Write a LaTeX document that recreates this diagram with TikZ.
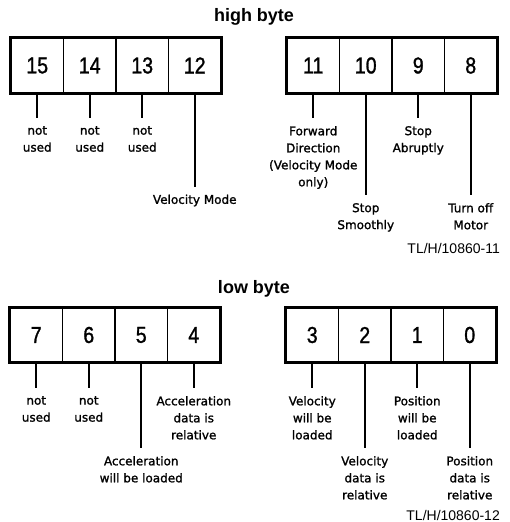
\documentclass[tikz,border=0pt]{standalone}
\usepackage{fontspec}
\newfontfamily\lblfamily[FakeBold=1.3]{DejaVu Sans}
\newfontfamily\hfamily{Liberation Sans}
\newfontfamily\digfamily[FakeStretch=0.85,FakeBold=1.2]{Liberation Sans}
\begin{document}
\begin{tikzpicture}[x=1pt,y=-1pt,
  cell/.style={draw, line width=1.4pt, minimum width=52.5pt, minimum height=54pt, inner sep=0pt,
    font=\digfamily\fontsize{23}{25}\selectfont},
  frame/.style={line width=3pt},
  conn/.style={line width=2.2pt},
  lbl/.style={anchor=north, inner sep=0pt, align=center, yshift=-8pt,
    font=\lblfamily\fontsize{12}{17}\selectfont, execute at begin node={\rule{0pt}{9pt}}},
  title/.style={anchor=base, inner sep=0pt, font=\hfamily\bfseries\fontsize{18}{20}\selectfont},
  tag/.style={anchor=base east, inner sep=0pt, font=\hfamily\fontsize{14}{16}\selectfont}]
\useasboundingbox (0,0) rectangle (509,522);

% titles
\node[title] (th) at (254,21.5) {high byte};
\node[title] (tl) at (254,293.5) {low byte};

% high byte cells
\foreach \n/\x in {15/37.25,14/89.75,13/142.25,12/194.75}
  \node[cell] (b\n) at (\x,65.5) {\n};
\foreach \n/\x in {11/313.25,10/365.75,9/418.25,8/470.75}
  \node[cell] (b\n) at (\x,65.5) {\n};
% low byte cells
\foreach \n/\x in {7/36.25,6/88.75,5/141.25,4/193.75}
  \node[cell] (b\n) at (\x,335) {\n};
\foreach \n/\x in {3/312.25,2/364.75,1/417.25,0/469.75}
  \node[cell] (b\n) at (\x,335) {\n};

% outer frames
\draw[frame] (b15.north west) rectangle (b12.south east);
\draw[frame] (b11.north west) rectangle (b8.south east);
\draw[frame] (b7.north west) rectangle (b4.south east);
\draw[frame] (b3.north west) rectangle (b0.south east);

% connector ends
\foreach \n/\e in {15/118,14/118,13/118,12/186.5,11/118,10/195,9/118,8/195,
                   7/388,6/388,5/448,4/388,3/388,2/448,1/388,0/448}{
  \path (b\n.south) coordinate (s\n);
  \coordinate (e\n) at (s\n |- 0,\e);
  \draw[conn] (b\n.south) -- (e\n);
}

% labels
\node[lbl] (l15) at (e15) {not\\used};
\node[lbl] (l14) at (e14) {not\\used};
\node[lbl] (l13) at (e13) {not\\used};
\node[lbl] (l12) at (e12) {Velocity Mode};
\node[lbl] (l11) at (e11) {Forward\\Direction\\(Velocity Mode\\only)};
\node[lbl] (l10) at (e10) {Stop\\Smoothly};
\node[lbl] (l9) at (e9) {Stop\\Abruptly};
\node[lbl] (l8) at (e8) {Turn off\\Motor};
\node[lbl] (l7) at (e7) {not\\used};
\node[lbl] (l6) at (e6) {not\\used};
\node[lbl] (l5) at (e5) {Acceleration\\will be loaded};
\node[lbl] (l4) at (e4) {Acceleration\\data is\\relative};
\node[lbl] (l3) at (e3) {Velocity\\will be\\loaded};
\node[lbl] (l2) at (e2) {Velocity\\data is\\relative};
\node[lbl] (l1) at (e1) {Position\\will be\\loaded};
\node[lbl] (l0) at (e0) {Position\\data is\\relative};

% figure tags
\node[tag] (t1) at (500,253) {TL/H/10860-11};
\node[tag] (t2) at (500,520.5) {TL/H/10860-12};
\end{tikzpicture}
\end{document}
